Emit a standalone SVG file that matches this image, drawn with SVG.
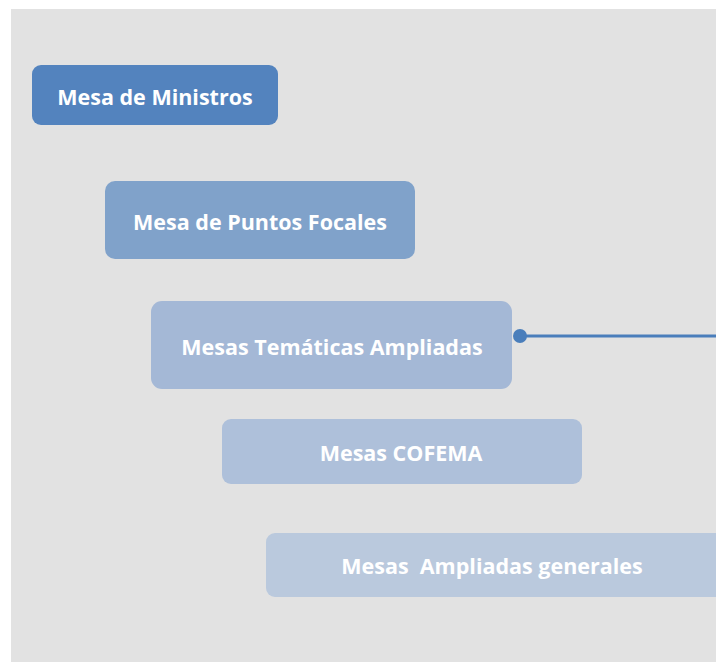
<svg xmlns="http://www.w3.org/2000/svg" width="716" height="662" viewBox="0 0 716 662">
<style>
.lbl{font-family:"Open Sans","Liberation Sans",sans-serif;font-weight:bold;font-size:21.5px;fill:#ffffff;text-anchor:middle;dominant-baseline:central;white-space:pre}
.conn{stroke:#4a7ebb;stroke-width:3;fill:none}
</style>
<rect x="0" y="0" width="716" height="662" fill="#ffffff"/>
<rect x="11" y="9" width="705" height="653" fill="#e2e2e2"/>
<g id="n1"><rect x="32" y="65" width="246" height="60" rx="9" fill="#5383be"/><text class="lbl" x="155" y="96">Mesa de Ministros</text></g>
<g id="n2"><rect x="105" y="181" width="310" height="78" rx="10" fill="#80a2ca"/><text class="lbl" x="260" y="221">Mesa de Puntos Focales</text></g>
<g id="n3"><rect x="151" y="301" width="361" height="88" rx="11" fill="#a4b8d6"/><text class="lbl" x="332" y="346">Mesas Temáticas Ampliadas</text></g>
<g id="n4"><rect x="222" y="419" width="360" height="65" rx="9" fill="#aec0da"/><text class="lbl" x="401" y="452">Mesas COFEMA</text></g>
<g id="n5"><rect x="266" y="533" width="460" height="64" rx="9" fill="#bac9dd"/><text class="lbl" x="492" y="565" xml:space="preserve">Mesas  Ampliadas generales</text></g>
<g id="connectors"><line class="conn" x1="520" y1="336" x2="716" y2="336"/><circle cx="520" cy="336" r="7" fill="#4a7ebb"/></g>
</svg>
